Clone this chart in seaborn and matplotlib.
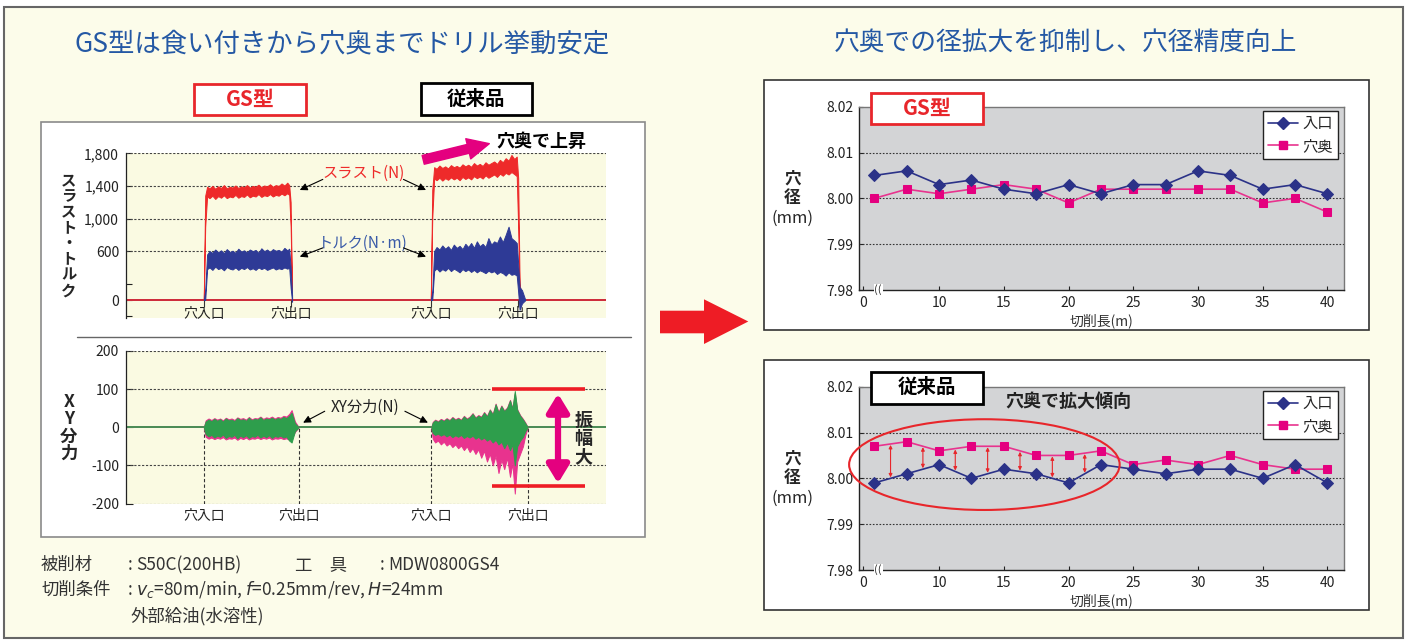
import matplotlib
matplotlib.use("Agg")
import matplotlib.pyplot as plt
import seaborn as sns
from matplotlib.patches import Rectangle, Polygon, Ellipse, FancyArrowPatch
from matplotlib.lines import Line2D

sns.set_theme(style="white")
plt.rcParams["font.family"] = ["Noto Sans CJK JP", "DejaVu Sans"]
plt.rcParams["axes.unicode_minus"] = False

# ---------------- data: thrust / torque traces (band envelopes) ----------------
base_t = [0, 100]
base_v = [0, 0]

t_gs = [16.2, 16.5, 16.9, 17.4, 18.0, 18.6, 19.2, 19.8, 20.4, 21.0,
        21.6, 22.2, 22.8, 23.4, 24.0, 24.6, 25.2, 25.8, 26.4, 27.0,
        27.6, 28.2, 28.8, 29.4, 30.0, 30.6, 31.2, 31.8, 32.4, 33.0,
        33.6, 34.0, 34.3, 34.6]
thrust_gs_hi = [0, 1280, 1390, 1370, 1400, 1365, 1395, 1375, 1410, 1370,
                1390, 1380, 1405, 1375, 1395, 1385, 1410, 1380, 1400, 1390,
                1415, 1385, 1405, 1395, 1420, 1390, 1410, 1400, 1430, 1405,
                1440, 1410, 1200, 0]
thrust_gs_lo = [0, 900, 1270, 1250, 1280, 1240, 1275, 1255, 1285, 1250,
                1270, 1260, 1290, 1255, 1275, 1265, 1295, 1260, 1280, 1270,
                1300, 1265, 1285, 1275, 1300, 1270, 1290, 1280, 1305, 1285,
                1310, 1290, 900, 0]
torque_gs_hi = [0, 120, 560, 600, 580, 620, 585, 610, 575, 625,
                590, 605, 580, 630, 595, 610, 585, 620, 600, 615,
                580, 635, 600, 620, 590, 625, 605, 615, 595, 640,
                610, 630, 400, 60]
torque_gs_lo = [0, 0, 380, 400, 370, 410, 380, 395, 365, 405,
                385, 375, 400, 370, 395, 380, 405, 375, 390, 370,
                400, 380, 395, 370, 385, 400, 375, 390, 380, 400,
                385, 395, 150, -20]

t_cv = [63.5, 63.8, 64.2, 64.7, 65.3, 65.9, 66.5, 67.1, 67.7, 68.3,
        68.9, 69.5, 70.1, 70.7, 71.3, 71.9, 72.5, 73.1, 73.7, 74.3,
        74.9, 75.5, 76.1, 76.7, 77.3, 77.9, 78.5, 79.1, 79.7, 80.3,
        80.9, 81.4, 81.7, 82.0, 82.5, 83.2]
thrust_cv_hi = [0, 1350, 1630, 1610, 1650, 1620, 1640, 1615, 1655, 1630,
                1645, 1625, 1665, 1640, 1660, 1635, 1680, 1650, 1670, 1645,
                1690, 1660, 1680, 1700, 1670, 1720, 1690, 1740, 1710, 1780,
                1730, 1760, 1500, 200, 0, 0]
thrust_cv_lo = [0, 1000, 1490, 1470, 1500, 1465, 1495, 1475, 1505, 1480,
                1500, 1470, 1510, 1485, 1505, 1480, 1520, 1495, 1515, 1490,
                1530, 1500, 1520, 1540, 1510, 1550, 1525, 1560, 1540, 1570,
                1545, 1520, 900, 0, 0, 0]
torque_cv_hi = [0, 100, 600, 650, 620, 670, 630, 660, 615, 680,
                640, 665, 625, 690, 650, 700, 640, 720, 660, 690,
                650, 760, 680, 720, 700, 780, 710, 800, 900, 760,
                730, 700, 450, 160, 120, 0]
torque_cv_lo = [0, 0, 360, 390, 350, 380, 360, 395, 355, 385,
                365, 340, 380, 355, 375, 345, 370, 340, 365, 350,
                330, 360, 340, 355, 320, 345, 330, 300, 340, 310,
                320, 300, 100, -120, -40, 0]

# ---------------- data: XY force traces ----------------
t_xy_gs = [16.2, 16.6, 17.2, 17.8, 18.4, 19.0, 19.6, 20.2, 20.8, 21.4,
           22.0, 22.6, 23.2, 23.8, 24.4, 25.0, 25.6, 26.2, 26.8, 27.4,
           28.0, 28.6, 29.2, 29.8, 30.4, 31.0, 31.6, 32.2, 32.8, 33.4,
           34.0, 34.5, 35.2, 36.0]
xy_gs_green_hi = [0, 15, 20, 16, 22, 17, 21, 15, 23, 18,
                  20, 16, 24, 19, 21, 17, 25, 18, 22, 20,
                  26, 19, 23, 21, 25, 20, 24, 22, 27, 24,
                  30, 38, 10, 0]
xy_gs_green_lo = [0, -18, -24, -20, -27, -22, -25, -19, -28, -23,
                  -25, -20, -29, -22, -26, -21, -28, -23, -25, -20,
                  -27, -22, -26, -21, -28, -23, -25, -22, -27, -24,
                  -35, -40, -10, 0]
xy_gs_pink_hi = [0, 18, 23, 19, 24, 20, 23, 18, 25, 21,
                 23, 19, 26, 22, 24, 20, 27, 21, 24, 23,
                 28, 22, 26, 24, 28, 23, 27, 25, 30, 28,
                 35, 45, 15, 0]
xy_gs_pink_lo = [0, -25, -30, -27, -31, -28, -30, -26, -32, -29,
                 -30, -27, -33, -28, -31, -27, -32, -29, -30, -27,
                 -31, -28, -30, -27, -32, -29, -30, -28, -31, -29,
                 -33, -30, -12, 0]

t_xy_cv = [63.6, 63.9, 64.4, 65.0, 65.6, 66.2, 66.8, 67.4, 68.0, 68.6,
           69.2, 69.8, 70.4, 71.0, 71.6, 72.2, 72.8, 73.4, 74.0, 74.6,
           75.2, 75.8, 76.4, 77.0, 77.6, 78.2, 78.8, 79.4, 80.0, 80.5,
           81.0, 81.5, 82.1, 82.7, 83.2, 83.7]
xy_cv_green_hi = [0, 12, 18, 14, 20, 16, 22, 17, 25, 19,
                  23, 18, 28, 21, 26, 35, 24, 30, 26, 38,
                  28, 45, 33, 60, 38, 55, 42, 50, 70, 48,
                  95, 45, 30, 20, 10, 0]
xy_cv_green_lo = [0, -15, -20, -17, -22, -18, -24, -19, -26, -21,
                  -25, -20, -28, -23, -27, -22, -30, -25, -32, -27,
                  -35, -30, -40, -33, -45, -38, -55, -40, -60, -45,
                  -100, -50, -35, -25, -10, 0]
xy_cv_pink_hi = [0, 14, 20, 16, 22, 18, 24, 19, 27, 21,
                 25, 20, 30, 23, 28, 37, 26, 32, 28, 40,
                 30, 47, 35, 62, 40, 57, 44, 52, 72, 50,
                 90, 47, 32, 22, 12, 0]
xy_cv_pink_lo = [0, -30, -40, -35, -45, -38, -48, -42, -52, -45,
                 -55, -48, -60, -50, -65, -55, -70, -58, -80, -62,
                 -90, -70, -100, -75, -120, -85, -110, -80, -130, -95,
                 -174, -90, -70, -50, -20, 0]

top_events = [16.2, 34.4, 63.5, 81.6]
xy_events = [16.2, 36.0, 63.6, 83.7]
event_labels = ["穴入口", "穴出口", "穴入口", "穴出口"]

thr_ticks = [-200, 0, 200, 600, 1000, 1400, 1800]
thr_ticklabels = ["", "0", "", "600", "1,000", "1,400", "1,800"]
thr_grid = [600, 1000, 1400, 1800]
xy_ticks = [-200, -100, 0, 100, 200]
xy_grid = [-200, -100, 100, 200]
amp_hi, amp_lo = 100, -155

# ---------------- data: hole diameter ----------------
cut_len = [5, 7.5, 10, 12.5, 15, 17.5, 20, 22.5, 25, 27.5, 30, 32.5, 35, 37.5, 40]
gs_entry = [8.005, 8.006, 8.003, 8.004, 8.002, 8.001, 8.003, 8.001,
            8.003, 8.003, 8.006, 8.005, 8.002, 8.003, 8.001]
gs_deep = [8.000, 8.002, 8.001, 8.002, 8.003, 8.002, 7.999, 8.002,
           8.002, 8.002, 8.002, 8.002, 7.999, 8.000, 7.997]
conv_entry = [7.999, 8.001, 8.003, 8.000, 8.002, 8.001, 7.999, 8.003,
              8.002, 8.001, 8.002, 8.002, 8.000, 8.003, 7.999]
conv_deep = [8.007, 8.008, 8.006, 8.007, 8.007, 8.005, 8.005, 8.006,
             8.003, 8.004, 8.003, 8.005, 8.003, 8.002, 8.002]
dia_xticks = [10, 15, 20, 25, 30, 35, 40]
dia_yticks = [7.98, 7.99, 8.00, 8.01, 8.02]
dia_grid = [7.99, 8.00, 8.01]
legend_labels = ["入口", "穴奥"]

# colours
RED = "#EE2A2A"
BLUE = "#2E3A96"
GREEN = "#2E9E4C"
MAGENTA = "#E4007F"
PINK = "#E8338E"
NAVY = "#2B3288"
TITLE_BLUE = "#2458A4"
PAGE = "#FCFCEA"
PLOT_CREAM = "#FAFAE2"
GRAY_BG = "#D3D4D6"

W, H = 1409, 640
fig = plt.figure(figsize=(W / 100, H / 100), dpi=100)


def px_axes(x0, y0, x1, y1, **kw):
    return fig.add_axes([x0 / W, 1 - y1 / H, (x1 - x0) / W, (y1 - y0) / H], **kw)


# background layer
bg = px_axes(0, 0, W, H, zorder=-1)
bg.set_xlim(0, W)
bg.set_ylim(H, 0)
bg.axis("off")
bg.add_patch(Rectangle((4, 6.5), 1399, 631, fc=PAGE, ec="#666666", lw=1.5))
bg.add_patch(Rectangle((41, 122), 604, 415, fc="white", ec="#8A8A8A", lw=1.2))
bg.plot([77, 631], [336.5, 336.5], color="#666666", lw=1.0)
for top in (79.5, 359.5):
    bg.add_patch(Rectangle((764, top), 605, 250, fc="white", ec="#333333", lw=1.2))


def style_left(ax, ylim, ticks, ticklabels, grid):
    ax.set_facecolor(PLOT_CREAM)
    ax.set_xlim(0, 100)
    ax.set_ylim(*ylim)
    for s in ["top", "right", "bottom"]:
        ax.spines[s].set_visible(False)
    ax.spines["left"].set_color("#222222")
    ax.spines["left"].set_linewidth(0.9)
    ax.set_xticks([])
    ax.set_yticks(ticks)
    ax.set_yticklabels(ticklabels)
    ax.tick_params(axis="y", direction="in", length=4, width=0.8, labelsize=10,
                   left=True, pad=5, colors="#222222")
    for g in grid:
        ax.axhline(g, color="#444444", lw=0.8, ls=(0, (2, 1.5)), zorder=1)


# ---- thrust / torque chart ----
ax1 = px_axes(126, 153.3, 606, 318)
style_left(ax1, (-220, 1800), thr_ticks, thr_ticklabels, thr_grid)
ax1.plot(base_t, base_v, color=BLUE, lw=1.4, zorder=2)
ax1.plot(base_t, base_v, color=RED, lw=1.2, zorder=2)
ax1.fill_between(t_gs, thrust_gs_lo, thrust_gs_hi, color=RED, lw=0.7, zorder=3)
ax1.fill_between(t_cv, thrust_cv_lo, thrust_cv_hi, color=RED, lw=0.7, zorder=3)
ax1.fill_between(t_gs, torque_gs_lo, torque_gs_hi, color=BLUE, lw=0.7, zorder=4)
ax1.fill_between(t_cv, torque_cv_lo, torque_cv_hi, color=BLUE, lw=0.7, zorder=4)
ax1.vlines(top_events, -90, 0, color="#333333", lw=0.8, zorder=2)
for t, lab in zip(top_events, event_labels):
    ax1.text(t, -165, lab, ha="center", va="center", fontsize=10, color="#222222")

arrow_kw = dict(arrowstyle="-|>", color="black", lw=0.8, mutation_scale=11, shrinkA=0, shrinkB=0)
ax1.text(49.4, 1560, "スラスト(N)", color=RED, fontsize=11, ha="center", va="center")
ax1.annotate("", xy=(36.2, 1350), xytext=(41.0, 1480), arrowprops=arrow_kw)
ax1.annotate("", xy=(62.5, 1350), xytext=(57.8, 1480), arrowprops=arrow_kw)
ax1.text(49.4, 700, "トルク(N·m)", color="#3A5BA8", fontsize=11, ha="center", va="center")
ax1.annotate("", xy=(36.2, 532), xytext=(41.0, 640), arrowprops=arrow_kw)
ax1.annotate("", xy=(62.5, 532), xytext=(57.8, 640), arrowprops=arrow_kw)

# ---- XY force chart ----
ax2 = px_axes(126, 351, 606, 503.5)
style_left(ax2, (-200, 200), xy_ticks, [str(v) for v in xy_ticks], xy_grid)
ax2.tick_params(axis="y", length=5)
ax2.plot(base_t, base_v, color=PINK, lw=1.4, zorder=2)
ax2.plot(base_t, base_v, color=GREEN, lw=1.2, zorder=2)
ax2.fill_between(t_xy_gs, xy_gs_pink_lo, xy_gs_pink_hi, color=PINK, lw=0.7, zorder=3)
ax2.fill_between(t_xy_cv, xy_cv_pink_lo, xy_cv_pink_hi, color=PINK, lw=0.7, zorder=3)
ax2.fill_between(t_xy_gs, xy_gs_green_lo, xy_gs_green_hi, color=GREEN, lw=0.7, zorder=4)
ax2.fill_between(t_xy_cv, xy_cv_green_lo, xy_cv_green_hi, color=GREEN, lw=0.7, zorder=4)
ax2.vlines(xy_events, -200, 0, color="#333333", lw=0.8, ls=(0, (3, 2)), zorder=2)
for t, lab in zip(xy_events, event_labels):
    ax2.text(t, -0.085, lab, ha="center", va="center", fontsize=10, color="#222222",
             transform=ax2.get_xaxis_transform())
ax2.text(49.7, 52, "XY分力(N)", color="#222222", fontsize=11, ha="center", va="center")
ax2.annotate("", xy=(36.9, 12), xytext=(41.4, 42), arrowprops=arrow_kw)
ax2.annotate("", xy=(62.9, 12), xytext=(58.1, 42), arrowprops=arrow_kw)
ax2.hlines([amp_hi, amp_lo], 76.3, 95.6, color="#EE1C25", lw=2.6, zorder=6, clip_on=False)
ax2.annotate("", xy=(90.0, amp_hi - 12), xytext=(90.0, amp_lo + 8),
             arrowprops=dict(arrowstyle="<|-|>,head_length=0.9,head_width=0.55", color=MAGENTA,
                             lw=4.5, mutation_scale=12, shrinkA=0, shrinkB=0), zorder=6)


# ---- hole diameter charts ----
def hole_chart(ax, entry, deep):
    ax.set_facecolor(GRAY_BG)
    for g in dia_grid:
        ax.axhline(g, color="#333333", lw=0.8, ls=(0, (1.5, 1.5)), zorder=1)
    sns.lineplot(x=cut_len, y=entry, ax=ax, color=NAVY, marker="D", markersize=6,
                 markeredgecolor=NAVY, linewidth=1.2, zorder=4)
    sns.lineplot(x=cut_len, y=deep, ax=ax, color=PINK, marker="s", markersize=5.5,
                 markeredgecolor=MAGENTA, markerfacecolor=MAGENTA, linewidth=1.2, zorder=3)
    ax.set_xlim(3.79, 41.25)
    ax.set_ylim(7.98, 8.02)
    ax.set_xticks([4.1] + dia_xticks)
    ax.set_xticklabels(["0"] + [str(v) for v in dia_xticks])
    ax.set_yticks(dia_yticks)
    ax.set_yticklabels([f"{v:.2f}" for v in dia_yticks])
    ax.tick_params(axis="both", direction="in", length=3, width=0.8, labelsize=10,
                   left=True, bottom=True, colors="#222222", pad=4)
    ax.set_xlabel("切削長(m)", fontsize=10, color="#333333", labelpad=3)
    ax.set_ylabel("")
    for s in ["left", "bottom"]:
        ax.spines[s].set_color("#222222")
        ax.spines[s].set_linewidth(1.0)
    for s in ["top", "right"]:
        ax.spines[s].set_color("#777777")
        ax.spines[s].set_linewidth(1.0)
    ax.text(5.3, 7.98, "((", fontsize=8, ha="center", va="center", color="#333333",
            clip_on=False, bbox=dict(fc="white", ec="none", pad=0.5), zorder=7)
    ax.text(-0.137, 0.609, "穴", transform=ax.transAxes, fontsize=12, fontweight="bold",
            ha="center", va="center")
    ax.text(-0.137, 0.500, "径", transform=ax.transAxes, fontsize=12, fontweight="bold",
            ha="center", va="center")
    ax.text(-0.137, 0.393, "(mm)", transform=ax.transAxes, fontsize=12,
            ha="center", va="center")
    handles = [Line2D([], [], color=NAVY, marker="D", markersize=6, lw=1.2),
               Line2D([], [], color=PINK, marker="s", markersize=5.5, lw=1.2,
                      markerfacecolor=MAGENTA, markeredgecolor=MAGENTA)]
    leg = ax.legend(handles, legend_labels, loc="upper right", bbox_to_anchor=(0.988, 0.978),
                    borderaxespad=0, frameon=True, fancybox=False, edgecolor="#222222",
                    facecolor="white", framealpha=1, fontsize=11, handlelength=2.0,
                    borderpad=0.3, labelspacing=0.35, handletextpad=0.3)
    leg.get_frame().set_linewidth(1.0)


ax3 = px_axes(858.7, 106.7, 1343.6, 290)
hole_chart(ax3, gs_entry, gs_deep)
ax4 = px_axes(858.7, 386.7, 1343.6, 570)
hole_chart(ax4, conv_entry, conv_deep)

ax4.add_patch(Ellipse((13.5, 8.003), 20.9, 0.0198, fill=False, ec="#E8262B", lw=1.5,
                      clip_on=False, zorder=6))
for i in range(7):
    xm = (cut_len[i] + cut_len[i + 1]) / 2
    y_in = (conv_entry[i] + conv_entry[i + 1]) / 2
    y_deep = (conv_deep[i] + conv_deep[i + 1]) / 2
    ax4.annotate("", xy=(xm, y_deep - 0.0002), xytext=(xm, y_in + 0.0002),
                 arrowprops=dict(arrowstyle="<|-|>", color="#E8262B", lw=0.8,
                                 mutation_scale=5, shrinkA=0, shrinkB=0))

# ---- overlay: titles, boxes, arrows, notes ----
fg = px_axes(0, 0, W, H, zorder=10)
fg.set_xlim(0, W)
fg.set_ylim(H, 0)
fg.axis("off")
fg.patch.set_visible(False)

fg.text(342.5, 43.5, "GS型は食い付きから穴奥までドリル挙動安定", fontsize=19,
        color=TITLE_BLUE, ha="center", va="center")
fg.text(1066, 43.5, "穴奥での径拡大を抑制し、穴径精度向上", fontsize=18.5,
        color=TITLE_BLUE, ha="center", va="center")

fg.add_patch(Rectangle((194, 83.5), 112, 31, fc="white", ec="#E8262B", lw=2))
fg.text(250, 99, "GS型", fontsize=15, fontweight="bold", color="#E8262B", ha="center", va="center")
fg.add_patch(Rectangle((420.5, 83), 111.5, 32, fc="white", ec="black", lw=2))
fg.text(476, 99, "従来品", fontsize=14, fontweight="bold", color="black", ha="center", va="center")

fg.add_patch(Rectangle((871, 93), 112, 30.5, fc="white", ec="#E8262B", lw=2))
fg.text(927, 108, "GS型", fontsize=15, fontweight="bold", color="#E8262B", ha="center", va="center")
fg.add_patch(Rectangle((871, 372), 112, 31.5, fc="white", ec="black", lw=2))
fg.text(927, 387.5, "従来品", fontsize=14, fontweight="bold", color="black", ha="center", va="center")
fg.text(1068, 401.5, "穴奥で拡大傾向", fontsize=13, fontweight="bold", color="#222222",
        ha="center", va="center")

fg.text(541, 141.5, "穴奥で上昇", fontsize=13, fontweight="bold", color="black", ha="center", va="center")
fg.add_patch(FancyArrowPatch((420.5, 160.5), (492, 143), mutation_scale=13, color=MAGENTA,
                             arrowstyle="simple,head_length=1.2,head_width=1.15,tail_width=0.5"))

fg.text(68.7, 235, "\n".join("スラスト・トルク"), fontsize=11, fontweight="bold",
        ha="center", va="center", linespacing=0.98)
fg.text(68.7, 428, "\n".join("XY分力"), fontsize=12.5, fontweight="bold",
        ha="center", va="center", linespacing=0.95)
fg.text(583.4, 438.5, "\n".join("振幅大"), fontsize=13, fontweight="bold",
        ha="center", va="center", linespacing=0.95)

fg.add_patch(Polygon([(660, 310.7), (704, 310.7), (704, 299.3), (748.3, 321.5),
                      (704, 344), (704, 333.3), (660, 333.3)], closed=True,
                     fc="#EE1C25", ec="none"))

note_kw = dict(fontsize=12.5, color="#333333", ha="left", va="center")
fg.text(41, 565, "被削材", **note_kw)
fg.text(128, 565, ":", **note_kw)
fg.text(136, 565, "S50C(200HB)", **note_kw)
fg.text(295, 565, "工　具", **note_kw)
fg.text(380, 565, ":", **note_kw)
fg.text(388, 565, "MDW0800GS4", **note_kw)
fg.text(41, 590, "切削条件", **note_kw)
fg.text(128, 590, ":", **note_kw)
fg.text(136, 590, "$v_{c}$=80m/min, $f$=0.25mm/rev, $H$=24mm", **note_kw)
fg.text(131, 616.5, "外部給油(水溶性)", **note_kw)

fig.savefig("out.png", dpi=100)
